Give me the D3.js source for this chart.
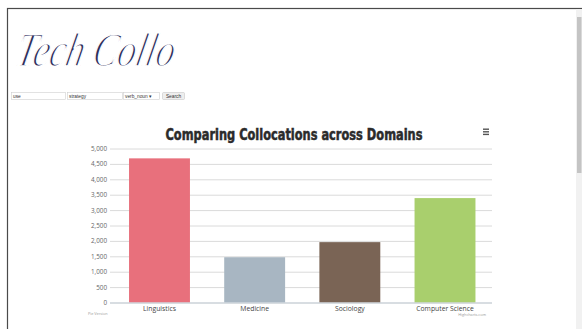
<!DOCTYPE html>
<html>
<head>
<meta charset="utf-8">
<script src="https://cdn.jsdelivr.net/npm/d3@7"></script>
<style>
  html, body { margin: 0; padding: 0; background: #fff; overflow: hidden; }
  svg { display: block; }
</style>
</head>
<body>
<svg id="page" width="582" height="329"></svg>
<script>
// Collocation counts per domain
const categories = ["Linguistics", "Medicine", "Sociology", "Computer Science"];
const counts = [4680, 1470, 1960, 3390];
const barColors = ["#e8707c", "#a8b6c2", "#7a6455", "#a9cf6d"];
const yTickValues = [0, 500, 1000, 1500, 2000, 2500, 3000, 3500, 4000, 4500, 5000];
const chartTitle = "Comparing Collocations across Domains";
const searchFields = ["use", "strategy"];
const relationOption = "verb_noun";

const svg = d3.select("#page");

// Browser window frame and scrollbar
svg.append("rect").attr("x", 7.5).attr("y", 8.5).attr("width", 580).attr("height", 330)
  .attr("fill", "#fff").attr("stroke", "#4a4a4a").attr("stroke-width", 1.2);
svg.append("rect").attr("x", 576).attr("y", 9).attr("width", 6).attr("height", 320).attr("fill", "#f1f1f1");
svg.append("rect").attr("x", 577).attr("y", 17).attr("width", 4.5).attr("height", 156).attr("fill", "#c4c4c4");

// Site logo: a thin slanted script, thinned by painting a white stroke over the fill
svg.append("text")
  .attr("transform", "translate(14,66) skewX(-12)")
  .attr("font-family", "'Liberation Serif', serif")
  .attr("font-style", "italic")
  .attr("font-size", 48)
  .attr("fill", "#2c2c5a")
  .attr("stroke", "#fff")
  .attr("stroke-width", 1.6)
  .attr("textLength", 158)
  .attr("lengthAdjust", "spacingAndGlyphs")
  .text("Tech Collo");

// Search form
const form = svg.append("g").attr("font-family", "'Liberation Sans', Arial, sans-serif").attr("font-size", 4.8).attr("fill", "#333");
const fieldBoxes = [[11, 54], [67, 55]];
searchFields.forEach((v, i) => {
  form.append("rect").attr("x", fieldBoxes[i][0] + 0.5).attr("y", 92.5).attr("width", fieldBoxes[i][1]).attr("height", 7)
    .attr("fill", "#fff").attr("stroke", "#cfcfcf").attr("stroke-width", 0.6);
  form.append("text").attr("x", fieldBoxes[i][0] + 2).attr("y", 97.7).text(v);
});
form.append("rect").attr("x", 123.5).attr("y", 92.5).attr("width", 36).attr("height", 7)
  .attr("fill", "#fff").attr("stroke", "#cfcfcf").attr("stroke-width", 0.6);
form.append("text").attr("x", 125).attr("y", 97.7).text(relationOption + "  \u25BE");
form.append("rect").attr("x", 162.5).attr("y", 92.5).attr("width", 22).attr("height", 7).attr("rx", 1)
  .attr("fill", "#eeeeee").attr("stroke", "#c8c8c8").attr("stroke-width", 0.6);
form.append("text").attr("x", 173.5).attr("y", 97.7).attr("text-anchor", "middle").text("Search");

// Chart
const plot = { left: 110, right: 492, top: 148.5, bottom: 302.5 };

const x = d3.scaleBand()
  .domain(categories)
  .range([plot.left, 494.5])
  .paddingInner(0.36)
  .paddingOuter(0.2);

const y = d3.scaleLinear()
  .domain([0, 5000])
  .range([plot.bottom, plot.top]);

const chart = svg.append("g").attr("font-family", "'Open Sans', 'Noto Sans', sans-serif");

// Title
chart.append("text")
  .attr("x", 294).attr("y", 140)
  .attr("text-anchor", "middle")
  .attr("font-family", "'DejaVu Sans Condensed', 'DejaVu Sans', sans-serif")
  .attr("font-stretch", "condensed")
  .attr("font-weight", "bold")
  .attr("font-size", 15.5)
  .attr("fill", "#2b2b2b")
  .attr("stroke", "#2b2b2b")
  .attr("stroke-width", 0.5)
  .attr("textLength", 257)
  .attr("lengthAdjust", "spacingAndGlyphs")
  .text(chartTitle);

// Menu icon
const menu = chart.append("g").attr("fill", "#555");
[0, 2.6, 5.2].forEach(dy => menu.append("rect").attr("x", 483).attr("y", 128.5 + dy).attr("width", 6).attr("height", 1.4));

// Gridlines and y-axis labels
const yAxis = d3.axisLeft(y)
  .tickValues(yTickValues)
  .tickSize(-(plot.right - plot.left))
  .tickPadding(3)
  .tickFormat(d3.format(","));

const yg = chart.append("g")
  .attr("transform", `translate(${plot.left},0)`)
  .call(yAxis);
yg.select(".domain").remove();
yg.selectAll(".tick line").attr("stroke", "#dadada").attr("stroke-width", 1);
yg.selectAll(".tick text").attr("font-size", 6.3).attr("fill", "#666").attr("font-family", "'Open Sans', sans-serif");

// Bars
chart.append("g").selectAll("rect")
  .data(categories)
  .join("rect")
  .attr("x", d => x(d))
  .attr("width", x.bandwidth())
  .attr("y", (d, i) => y(counts[i]))
  .attr("height", (d, i) => y(0) - y(counts[i]))
  .attr("fill", (d, i) => barColors[i]);

// Category axis
const xAxis = d3.axisBottom(x).tickSize(0).tickPadding(4);
const xg = chart.append("g")
  .attr("transform", `translate(0,${plot.bottom})`)
  .call(xAxis);
xg.select(".domain").attr("d", `M${plot.left},0.5H${plot.right}`).attr("stroke", "#c3cdd6").attr("stroke-width", 1);
xg.selectAll(".tick text").attr("font-size", 6.8).attr("fill", "#444").attr("font-family", "'Open Sans', sans-serif");

// Credits
chart.append("text").attr("x", 88).attr("y", 315).attr("font-size", 3.8).attr("fill", "#999").text("Pie Version");
chart.append("text").attr("x", 486).attr("y", 316).attr("text-anchor", "end").attr("font-size", 3.8).attr("fill", "#999").text("Highcharts.com");
</script>
</body>
</html>
